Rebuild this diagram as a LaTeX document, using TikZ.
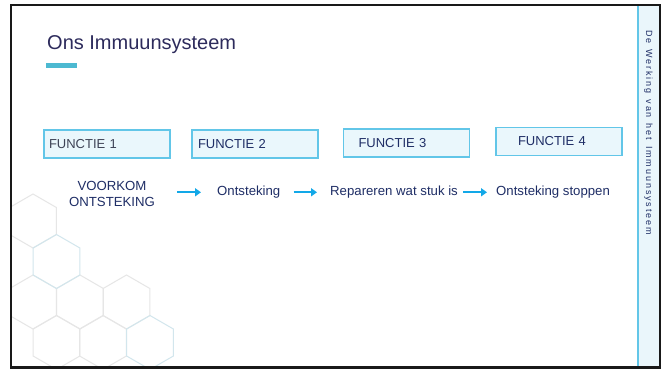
\documentclass[tikz,border=0pt]{standalone}
\usepackage{fontspec}
\setmainfont{Liberation Sans}
\newfontfamily\sidefont[LetterSpace=21]{Liberation Sans}
\usetikzlibrary{arrows.meta}

\definecolor{navy}{HTML}{1F2E66}
\definecolor{titlecol}{HTML}{2D2B5C}
\definecolor{accent}{HTML}{4CB9D1}
\definecolor{boxfill}{HTML}{EAF7FC}
\definecolor{boxline}{HTML}{62C6E8}
\definecolor{arrowcol}{HTML}{12A8E8}
\definecolor{hexgray}{HTML}{E6E6E6}
\definecolor{hexblue}{HTML}{D2E6ED}
\definecolor{sidefill}{HTML}{EAF6FB}
\definecolor{grayfont}{HTML}{3E4356}

\tikzset{
  hexline/.style={line width=1pt},
  fbox/.style={draw=boxline, fill=boxfill, line width=1.3pt, outer sep=0pt,
    minimum height=28pt, anchor=west, align=left, inner ysep=0pt,
    font=\fontsize{13}{15}\selectfont, text=navy},
  rowtext/.style={inner sep=0pt, text=navy, font=\fontsize{13.2}{16}\selectfont},
  flow/.style={draw=arrowcol, line width=2.2pt, -{Triangle[length=6pt,width=8pt]}}
}
\newcommand{\wgap}{\hspace{6pt}}

\begin{document}
\begin{tikzpicture}[x=1pt,y=-1pt]
\useasboundingbox (0,0) rectangle (666,369);
\fill[white] (0,0) rectangle (666,369);

% honeycomb decoration in the lower left corner
\begin{scope}
  \clip (12,6) rectangle (659,366);
  \foreach \cx/\cy/\c in {33/221/hexgray, 33/302/hexgray, 80/302/hexgray,
      126.5/302/hexgray, 56.5/342.5/hexgray, 103/342.5/hexgray,
      56.5/261.5/hexblue, 150/342.5/hexblue}
    \draw[hexline, draw=\c, shift={(\cx,\cy)}]
      (90:27) -- (150:27) -- (210:27) -- (270:27) -- (330:27) -- (30:27) -- cycle;
\end{scope}

% side band with vertical caption
\fill[sidefill] (638,5) rectangle (659,367);
\draw[boxline, line width=1.2pt] (638,5) -- (638,367);
\node[rotate=-90, text=navy, inner sep=0pt,
      font=\sidefont\fontsize{9}{11}\selectfont] (side) at (648.5,132.5)
  {De\wgap Werking\wgap van\wgap het\wgap Immuunsysteem};

% title and accent bar
\node[anchor=base west, inner sep=0pt, text=titlecol,
      font=\fontsize{20}{24}\selectfont] (title) at (47,49.3) {Ons Immuunsysteem};
\fill[accent] (46,63.5) rectangle (77,67.5);

% function boxes
\node[fbox, inner xsep=5pt, text width=116pt, text=grayfont] (f1) at (44,144) {FUNCTIE 1};
\node[fbox, inner xsep=6pt, text width=114pt] (f2) at (192,144) {FUNCTIE 2};
\node[fbox, inner xsep=15pt, text width=96pt] (f3) at (343.5,143) {FUNCTIE 3};
\node[fbox, inner xsep=22pt, text width=82pt] (f4) at (496,141.5) {FUNCTIE 4};

% process steps
\node[rowtext, align=center] (v) at (112,193.5) {VOORKOM\\ONTSTEKING};
\node[rowtext, anchor=base west] (o) at (217,195.7) {Ontsteking};
\node[rowtext, anchor=base west] (r) at (330,195.7) {Repareren wat stuk is};
\node[rowtext, anchor=base west] (s) at (496,195.7) {Ontsteking stoppen};

\draw[flow, shorten <=22pt, shorten >=16pt] (v.east |- o.west) -- (o.west);
\draw[flow, shorten <=13pt, shorten >=13pt] (o.east) -- (r.west);
\draw[flow, shorten <=5pt, shorten >=9pt] (r.east) -- (s.west);

% slide frame
\draw[line width=2.5pt, draw=black!90] (11,5) rectangle (660,367.5);
\end{tikzpicture}
\end{document}
